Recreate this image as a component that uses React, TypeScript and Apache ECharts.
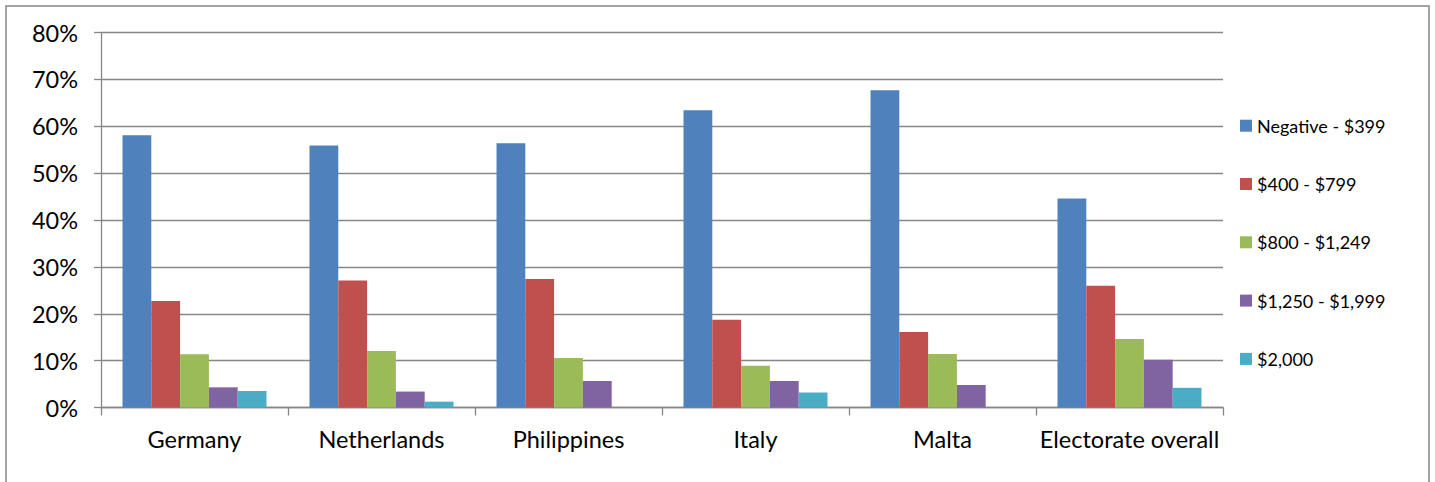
import React, { useEffect, useRef } from "react";
import * as echarts from "echarts";

const categories = ["Germany", "Netherlands", "Philippines", "Italy", "Malta", "Electorate overall"];
const seriesNames = ["Negative - $399", "$400 - $799", "$800 - $1,249", "$1,250 - $1,999", "$2,000"];
const negativeTo399 = [58.1, 55.9, 56.4, 63.4, 67.7, 44.6];
const from400To799 = [22.7, 27.1, 27.4, 18.7, 16.1, 26.0];
const from800To1249 = [11.35, 12.05, 10.55, 8.9, 11.4, 14.6];
const from1250To1999 = [4.3, 3.4, 5.65, 5.65, 4.8, 10.2];
const over2000 = [3.5, 1.25, 0, 3.2, 0, 4.2];
const seriesValues = [negativeTo399, from400To799, from800To1249, from1250To1999, over2000];
const colors = ["#4F81BD", "#C0504D", "#9BBB59", "#8064A2", "#4BACC6"];
const yTicks = { min: 0, max: 80, interval: 10 };

const FONT = "Lato";
const GRAY = "#878787";

export default function App() {
  const ref = useRef<HTMLDivElement>(null);
  useEffect(() => {
    if (!ref.current) return;
    const chart = echarts.init(ref.current, null, { renderer: "svg" });
    chart.setOption({
      animation: false,
      color: colors,
      textStyle: { fontFamily: FONT },
      graphic: [
        {
          type: "rect",
          shape: { x: 6, y: 6, width: 1423, height: 500 },
          style: { fill: "none", stroke: GRAY, lineWidth: 1.5 },
          silent: true,
        },
      ],
      grid: { left: 101, top: 32.5, right: 212, bottom: 74.5, containLabel: false },
      legend: {
        orient: "vertical",
        left: 1235,
        top: 110.7,
        itemWidth: 12,
        itemHeight: 12,
        itemGap: 38.3,
        icon: "rect",
        textStyle: { fontFamily: FONT, fontSize: 18, color: "#000", lineHeight: 20, padding: [0, 0, 0, 0] },
        data: seriesNames,
      },
      xAxis: {
        type: "category",
        data: categories,
        axisLine: { lineStyle: { color: GRAY, width: 1.3 } },
        axisTick: { show: true, length: 8, interval: 0, lineStyle: { color: GRAY, width: 1.3 } },
        axisLabel: { fontFamily: FONT, fontSize: 23.5, color: "#000", margin: 19, interval: 0 },
      },
      yAxis: {
        type: "value",
        min: yTicks.min,
        max: yTicks.max,
        interval: yTicks.interval,
        axisLine: { show: true, lineStyle: { color: GRAY, width: 1.3 } },
        axisTick: { show: true, length: 7, lineStyle: { color: GRAY, width: 1.3 } },
        splitLine: { lineStyle: { color: GRAY, width: 1.3 } },
        axisLabel: { fontFamily: FONT, fontSize: 23.5, color: "#000", margin: 23, formatter: "{value}%" },
      },
      series: seriesNames.map((name, i) => ({
        name,
        type: "bar",
        data: seriesValues[i],
        barGap: "0%",
        barCategoryGap: "23%",
        itemStyle: { color: colors[i] },
      })),
    });
    return () => chart.dispose();
  }, []);
  return (
    <div
      ref={ref}
      style={{ position: "absolute", left: 0, top: 0, width: 1435, height: 482, background: "#fff" }}
    />
  );
}
